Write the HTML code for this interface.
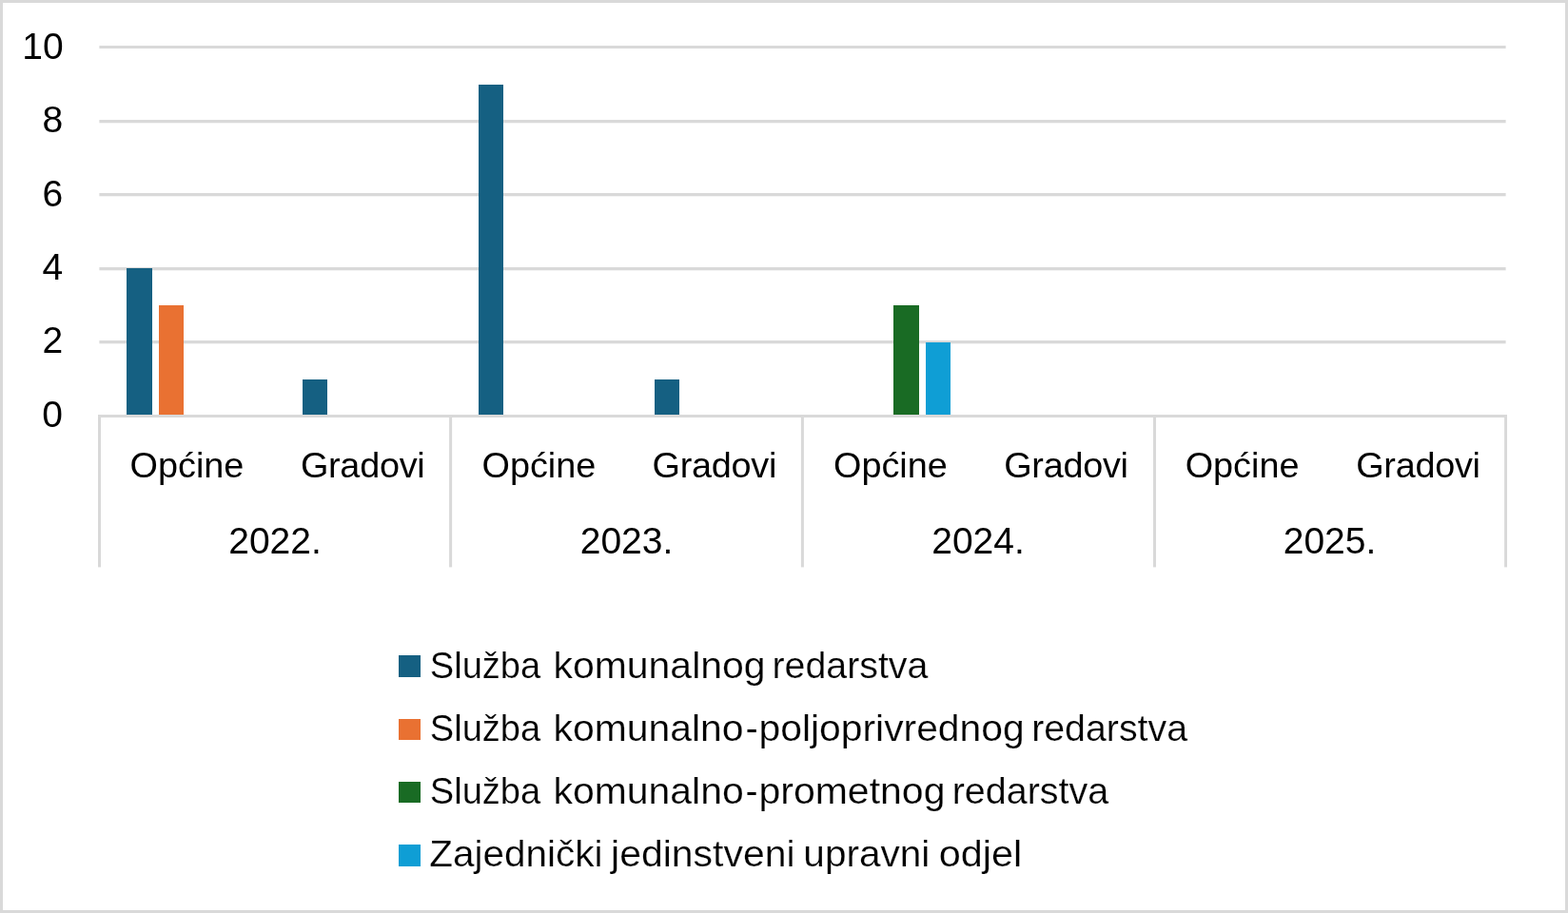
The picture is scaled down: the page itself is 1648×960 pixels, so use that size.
<!DOCTYPE html>
<html lang="hr">
<head>
<meta charset="utf-8">
<title>Grafikon</title>
<style>
  html, body { margin: 0; padding: 0; background: #ffffff; }
  body { width: 1648px; height: 960px; overflow: hidden; }
  svg { display: block; }
  text { font-family: "Liberation Sans", sans-serif; font-size: 37.9px; fill: #000000; }
  .num text { font-size: 39px; }
  .cat text { font-size: 37.8px; }
  .leg text { stroke: #ffffff; stroke-width: 0.22px; }
</style>
</head>
<body>
<svg width="1648" height="960" viewBox="0 0 1648 960">
  <!-- background + outer border -->
  <rect x="0" y="0" width="1648" height="960" fill="#ffffff"/>
  <rect x="1.5" y="1.5" width="1645" height="957" fill="none" stroke="#d9d9d9" stroke-width="3"/>

  <!-- gridlines -->
  <g fill="#d9d9d9">
    <rect x="104.4" y="48" width="1478.2" height="3"/>
    <rect x="104.4" y="126" width="1478.2" height="3.3"/>
    <rect x="104.4" y="203" width="1478.2" height="3.3"/>
    <rect x="104.4" y="281" width="1478.2" height="3.3"/>
    <rect x="104.4" y="358" width="1478.2" height="3.3"/>
  </g>

  <!-- bars -->
  <g>
    <rect x="133" y="282" width="27" height="155" fill="#156082"/>
    <rect x="167" y="321" width="26" height="116" fill="#e97132"/>
    <rect x="318" y="399" width="26" height="38" fill="#156082"/>
    <rect x="503" y="89" width="26" height="348" fill="#156082"/>
    <rect x="688" y="399" width="26" height="38" fill="#156082"/>
    <rect x="939" y="321" width="27" height="116" fill="#196b24"/>
    <rect x="973" y="360" width="26" height="77" fill="#0f9ed5"/>
  </g>

  <!-- axis line + category separators -->
  <g fill="#d9d9d9">
    <rect x="103" y="436" width="1481" height="3"/>
    <rect x="103" y="436" width="3" height="160.4"/>
    <rect x="472.1" y="436" width="3" height="160.4"/>
    <rect x="841.9" y="436" width="3" height="160.4"/>
    <rect x="1212" y="436" width="3" height="160.4"/>
    <rect x="1581.1" y="436" width="2.9" height="160.4"/>
  </g>

  <!-- value axis labels -->
  <g class="num" text-anchor="end">
    <text x="66.7" y="61.7">10</text>
    <text x="66.2" y="139.2">8</text>
    <text x="66.3" y="216.9">6</text>
    <text x="66.3" y="294.4">4</text>
    <text x="66.3" y="371.2">2</text>
    <text x="66" y="449.2">0</text>
  </g>

  <!-- category labels -->
  <g class="cat" text-anchor="middle">
    <text x="196.5" y="502.15">Općine</text>
    <text x="381.3" y="502.15" textLength="130.8">Gradovi</text>
    <text x="566.4" y="502.15">Općine</text>
    <text x="751" y="502.15" textLength="130.8">Gradovi</text>
    <text x="935.9" y="502.15">Općine</text>
    <text x="1120.6" y="502.15" textLength="130.8">Gradovi</text>
    <text x="1305.6" y="502.15">Općine</text>
    <text x="1490.6" y="502.15" textLength="130.8">Gradovi</text>
  </g>
  <g class="num" text-anchor="middle">
    <text x="289" y="582.2">2022.</text>
    <text x="658.5" y="582.2">2023.</text>
    <text x="1028" y="582.2">2024.</text>
    <text x="1397.5" y="582.2">2025.</text>
  </g>

  <!-- legend -->
  <g class="leg">
    <rect x="419" y="689" width="23" height="23" fill="#156082"/>
    <rect x="419" y="756" width="23" height="22" fill="#e97132"/>
    <rect x="419" y="822" width="23" height="22" fill="#196b24"/>
    <rect x="419" y="888" width="23" height="23" fill="#0f9ed5"/>
    <text y="712.6"><tspan x="451.8" textLength="116.37" lengthAdjust="spacingAndGlyphs">Služba</tspan> <tspan x="581.59" textLength="222.9" lengthAdjust="spacingAndGlyphs">komunalnog</tspan> <tspan x="811.42" textLength="164.01" lengthAdjust="spacingAndGlyphs">redarstva</tspan></text>
    <text y="778.7"><tspan x="451.8" textLength="116.37" lengthAdjust="spacingAndGlyphs">Služba</tspan> <tspan x="581.59" textLength="199.97" lengthAdjust="spacingAndGlyphs">komunalno</tspan><tspan x="783.45" textLength="13.25" lengthAdjust="spacingAndGlyphs">-</tspan><tspan x="797.6" textLength="279.04" lengthAdjust="spacingAndGlyphs">poljoprivrednog</tspan> <tspan x="1084.18" textLength="163.86" lengthAdjust="spacingAndGlyphs">redarstva</tspan></text>
    <text y="844.7"><tspan x="451.8" textLength="116.37" lengthAdjust="spacingAndGlyphs">Služba</tspan> <tspan x="581.59" textLength="200.07" lengthAdjust="spacingAndGlyphs">komunalno</tspan><tspan x="783.56" textLength="13.12" lengthAdjust="spacingAndGlyphs">-</tspan><tspan x="797.44" textLength="196.06" lengthAdjust="spacingAndGlyphs">prometnog</tspan> <tspan x="1000.67" textLength="164.62" lengthAdjust="spacingAndGlyphs">redarstva</tspan></text>
    <text y="911"><tspan x="451.23" textLength="182.25" lengthAdjust="spacingAndGlyphs">Zajednički</tspan> <tspan x="642.08" textLength="193.53" lengthAdjust="spacingAndGlyphs">jedinstveni</tspan> <tspan x="844.36" textLength="132.98" lengthAdjust="spacingAndGlyphs">upravni</tspan> <tspan x="986.71" textLength="87.43" lengthAdjust="spacingAndGlyphs">odjel</tspan></text>
  </g>
</svg>
</body>
</html>
